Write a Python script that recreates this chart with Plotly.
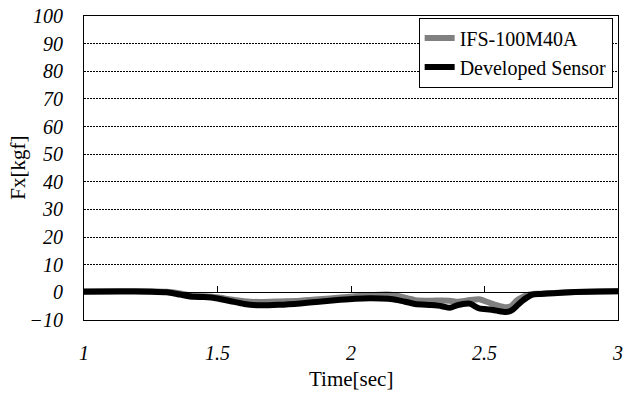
import plotly.graph_objects as go

time = [1.00, 1.135, 1.25, 1.31, 1.36, 1.41, 1.45, 1.50, 1.55, 1.60, 1.66, 1.73,
        1.81, 1.88, 1.96, 2.015, 2.07, 2.14, 2.18, 2.24, 2.30, 2.34, 2.37, 2.40,
        2.42, 2.445, 2.48, 2.52, 2.545, 2.58, 2.60, 2.62, 2.64, 2.66, 2.68, 2.71,
        2.76, 2.84, 2.93, 3.00]

ifs = [0.4, 0.5, 0.4, 0.2, -0.4, -1.2, -1.4, -1.8, -2.6, -3.2, -3.5, -3.3,
       -3.0, -2.5, -1.9, -1.4, -1.0, -0.8, -1.4, -2.8, -3.0, -2.9, -3.0, -3.4,
       -3.2, -2.8, -2.5, -3.8, -4.6, -5.4, -5.0, -3.0, -1.8, -1.0, -0.6, -0.5,
       -0.2, 0.1, 0.3, 0.4]

developed = [0.2, 0.3, 0.2, 0.0, -0.8, -1.6, -1.7, -2.2, -3.2, -4.2, -4.7, -4.5,
             -4.0, -3.4, -2.7, -2.3, -2.1, -2.3, -2.9, -4.2, -4.6, -5.0, -5.6, -4.6,
             -4.2, -4.1, -5.8, -6.2, -6.6, -7.1, -6.6, -5.0, -3.2, -1.8, -0.8, -0.6,
             -0.3, 0.1, 0.3, 0.4]

y_ticks = list(range(-10, 101, 10))
x_ticks = [1, 1.5, 2, 2.5, 3]
x_tick_labels = ["1", "1.5", "2", "2.5", "3"]
x_title = "Time[sec]"
y_title = "Fx[kgf]"

font_family = "Liberation Serif"

fig = go.Figure()
fig.add_trace(go.Scatter(x=time, y=ifs, mode="lines", name="IFS-100M40A",
                         line=dict(color="#808080", width=6, shape="spline", smoothing=0.6)))
fig.add_trace(go.Scatter(x=time, y=developed, mode="lines", name="Developed Sensor",
                         line=dict(color="#000000", width=6, shape="spline", smoothing=0.6)))

fig.update_layout(
    width=630, height=397,
    margin=dict(l=84, r=12, t=16, b=77),
    paper_bgcolor="white", plot_bgcolor="white",
    font=dict(family=font_family, color="black", size=20),
    showlegend=True,
    legend=dict(x=0.99, y=0.995, xanchor="right", yanchor="top",
                bgcolor="white", bordercolor="black", borderwidth=1,
                font=dict(size=20, family=font_family), itemwidth=30,
                tracegroupgap=0),
    xaxis=dict(range=[1, 3], tickvals=x_ticks, ticktext=x_tick_labels,
               showgrid=False, zeroline=False, showline=True, linecolor="black",
               linewidth=1, mirror=True, ticks="", automargin=False,
               tickfont=dict(size=20, family=font_family, style="italic"),
               ticklabelstandoff=15),
    xaxis2=dict(range=[1, 3], overlaying="x", anchor="free", position=10 / 110,
                tickvals=x_ticks, showticklabels=False, ticks="inside", ticklen=6,
                tickcolor="black", showline=True, linecolor="black", linewidth=1,
                showgrid=False, zeroline=False, automargin=False),
    yaxis=dict(range=[-10, 100], tickvals=y_ticks, showgrid=True, gridcolor="black",
               griddash="2px,1px", gridwidth=1, zeroline=False, showline=True,
               linecolor="black", linewidth=1, mirror=True, ticks="", automargin=False,
               tickfont=dict(size=20, family=font_family, style="italic"),
               ticklabelstandoff=16),
    annotations=[
        dict(text=x_title, xref="paper", yref="paper", x=0.5, y=-0.195,
             xanchor="center", yanchor="middle", showarrow=False,
             font=dict(size=21, family=font_family)),
        dict(text=y_title, xref="paper", yref="paper", x=-0.124, y=0.5,
             xanchor="center", yanchor="middle", showarrow=False, textangle=-90,
             font=dict(size=21, family=font_family)),
    ],
)
# dummy trace to activate xaxis2
fig.add_trace(go.Scatter(x=[1, 3], y=[None, None], xaxis="x2", showlegend=False,
                         hoverinfo="skip"))

fig.write_html("out.html")
